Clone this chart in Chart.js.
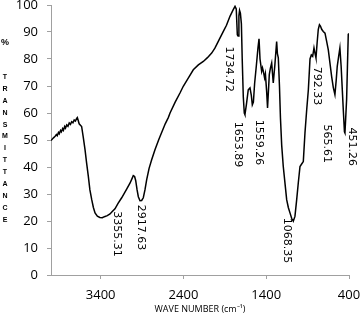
<!DOCTYPE html>
<html>
<head>
<meta charset="utf-8">
<script src="https://cdn.jsdelivr.net/npm/chart.js@4"></script>
<style>
html, body { margin:0; padding:0; background:#fff; }
#wrap { width:360px; height:319px; position:relative; }
</style>
</head>
<body>
<div id="wrap"><canvas id="ftirChart"></canvas></div>
<script>
//=========================================
// FTIR spectrum data
//=========================================
let wavenumbers = [
    4000, 3970, 3950, 3935, 3925, 3910, 3900, 3885, 3875, 3860,
    3850, 3835, 3825, 3810, 3795, 3780, 3765, 3750, 3735, 3720,
    3705, 3690, 3682, 3672, 3660, 3630, 3610,
    3589, 3570, 3549, 3530, 3508, 3488, 3468, 3440, 3410, 3380,
    3355, 3320, 3287, 3260, 3227, 3190, 3146, 3110, 3086, 3046,
    3020, 3006, 2990, 2977, 2960, 2945, 2925, 2905, 2885, 2865,
    2844, 2815, 2784, 2744, 2700, 2683, 2620, 2583, 2562, 2500,
    2442, 2402, 2340, 2281, 2220, 2160, 2110, 2059, 2020, 1979,
    1918, 1880, 1838, 1800, 1777, 1762, 1749, 1740, 1730, 1722,
    1712, 1700, 1690, 1677, 1665, 1657, 1640, 1617, 1596, 1580,
    1568, 1555, 1540, 1520, 1500, 1487, 1475, 1455, 1445, 1435,
    1420, 1410, 1395, 1384, 1370, 1363, 1350, 1334, 1320, 1315,
    1295, 1274, 1265, 1254, 1240, 1228, 1213, 1194, 1170, 1153,
    1133, 1113, 1093, 1073, 1053, 1032, 1013, 992, 970, 952,
    932, 911, 891, 871, 855, 839, 823, 810, 799, 785,
    771, 757, 745, 730, 711, 690, 670, 650, 630, 610,
    590, 570, 555, 542, 525, 510, 495, 480, 469, 455,
    449, 440, 429, 419, 409, 405
];

let transmittance = [
    49.8, 50.8, 51.4, 52.0, 51.6, 52.8, 52.3, 53.5, 53.0, 54.2,
    53.6, 55.0, 54.4, 55.6, 55.1, 56.3, 55.8, 56.8, 56.4, 57.4,
    57.0, 58.0, 58.3, 57.3, 56.0, 55.0, 51.0,
    46.4, 41.5, 36.5, 31.5, 27.9, 25.0, 23.0, 21.8, 21.3, 21.2,
    21.6, 22.0, 22.6, 23.5, 24.5, 26.5, 28.6, 30.5, 31.8, 34.0,
    35.8, 36.8, 36.5, 35.0, 31.5, 29.0, 27.5, 27.6, 28.6, 31.5,
    35.3, 39.5, 42.7, 46.4, 50.0, 51.3, 56.0, 58.3, 60.0, 64.0,
    67.4, 69.9, 73.0, 76.0, 77.8, 79.1, 80.5, 82.2, 84.0, 86.5,
    90.2, 92.5, 95.8, 98.2, 99.5, 98.5, 89.0, 88.5, 96.0, 98.0,
    97.0, 93.0, 80.0, 66.0, 60.0, 59.4, 63.0, 68.6, 69.3, 66.5,
    63.0, 64.0, 71.0, 77.3, 84.0, 87.5, 80.0, 75.4, 76.7, 75.5,
    73.0, 74.5, 68.0, 61.9, 70.0, 74.2, 76.5, 78.5, 73.0, 71.1,
    78.0, 86.5, 82.0, 80.4, 70.0, 58.1, 48.0, 40.2, 33.0, 27.9,
    25.0, 23.0, 21.0, 19.9, 21.7, 27.9, 34.0, 40.2, 41.2, 42.0,
    52.6, 61.2, 68.6, 80.0, 81.5, 81.0, 84.1, 82.0, 80.4, 86.0,
    91.0, 92.7, 92.2, 91.0, 90.2, 89.6, 86.5, 83.4, 78.5, 73.6,
    69.5, 66.8, 72.0, 77.3, 81.0, 84.1, 77.3, 68.0, 61.2, 53.0,
    52.6, 58.0, 64.9, 77.0, 89.0, 89.5
];

// x-axis tick labels
let xTicks = [3400, 2400, 1400, 400];

// peak labels (text, and where the label starts in data units)
let peakLabels = ["3355.31", "2917.63", "1734.72", "1653.89", "1559.26",
                  "1068.35", "792.33", "565.61", "451.26"];
let peakLabelX = [3207, 2909, 1850, 1742, 1494, 1153, 794, 673, 365];
let peakLabelY = [23.6, 26.0, 84.6, 56.8, 57.5, 21.2, 77.1, 55.7, 54.6];

let yTitleTop = "%";
let yTitleWord = "TRANSMITTANCE";

//------------------------------------
// Plugin: rotated peak labels + stacked y title
//------------------------------------
const ftirText = {
    id: "ftirText",
    afterDraw(chart){
        const ctx = chart.ctx;
        const xs = chart.scales.x;
        const ys = chart.scales.y;

        ctx.save();
        ctx.fillStyle = "#000";
        ctx.font = '11px "DejaVu Sans"';
        ctx.textAlign = "left";
        ctx.textBaseline = "middle";
        peakLabels.forEach(function(t, i){
            ctx.save();
            ctx.translate(xs.getPixelForValue(peakLabelX[i]), ys.getPixelForValue(peakLabelY[i]));
            ctx.rotate(Math.PI / 2);
            ctx.fillText(t, 0, 0);
            ctx.restore();
        });

        ctx.textAlign = "center";
        ctx.font = 'bold 9px "Liberation Sans"';
        ctx.fillText(yTitleTop, 5, 43);
        ctx.font = 'bold 7px "Liberation Sans"';
        for(let i = 0; i < yTitleWord.length; i++){
            ctx.fillText(yTitleWord[i], 5, 77 + i * 11.9);
        }
        ctx.restore();
    }
};

const axisGrey = "#a0a0a0";

new Chart(document.getElementById("ftirChart"), {
    type: "line",
    data: {
        datasets: [{
            data: wavenumbers.map(function(w, i){ return {x: w, y: transmittance[i]}; }),
            borderColor: "#000",
            borderWidth: 1.5,
            pointRadius: 0,
            fill: false,
            tension: 0
        }]
    },
    options: {
        responsive: true,
        maintainAspectRatio: false,
        animation: false,
        layout: { padding: { left: 0, right: 11, top: 5, bottom: 0 } },
        plugins: {
            legend: { display: false },
            tooltip: { enabled: false }
        },
        scales: {
            x: {
                type: "linear",
                reverse: true,
                min: 400,
                max: 4000,
                afterBuildTicks: function(scale){
                    scale.ticks = xTicks.map(function(v){ return {value: v}; });
                },
                afterFit: function(scale){
                    scale.height = 44;
                    scale.paddingLeft = 0;
                    scale.paddingRight = 0;
                },
                grid: {
                    drawOnChartArea: false,
                    drawTicks: true,
                    tickLength: 4,
                    color: axisGrey
                },
                border: { color: axisGrey },
                ticks: {
                    color: "#000",
                    padding: 8,
                    maxRotation: 0,
                    callback: function(v){ return String(v); },
                    font: { family: "Open Sans", size: 13 }
                },
                title: {
                    display: true,
                    text: "WAVE NUMBER (cm\u207B\u00B9)",
                    color: "#000",
                    padding: { top: 0, bottom: 4.6 },
                    font: { family: "Open Sans", size: 9 }
                }
            },
            y: {
                min: 0,
                max: 100,
                afterFit: function(scale){
                    scale.width = 51;
                    scale.paddingTop = 0;
                    scale.paddingBottom = 0;
                },
                grid: {
                    drawOnChartArea: false,
                    drawTicks: true,
                    tickLength: 4,
                    color: axisGrey
                },
                border: { color: axisGrey },
                ticks: {
                    stepSize: 10,
                    color: "#000",
                    padding: 9,
                    callback: function(v){ return String(v); },
                    font: { family: "Open Sans", size: 13 }
                }
            }
        }
    },
    plugins: [ftirText]
});
</script>
</body>
</html>
